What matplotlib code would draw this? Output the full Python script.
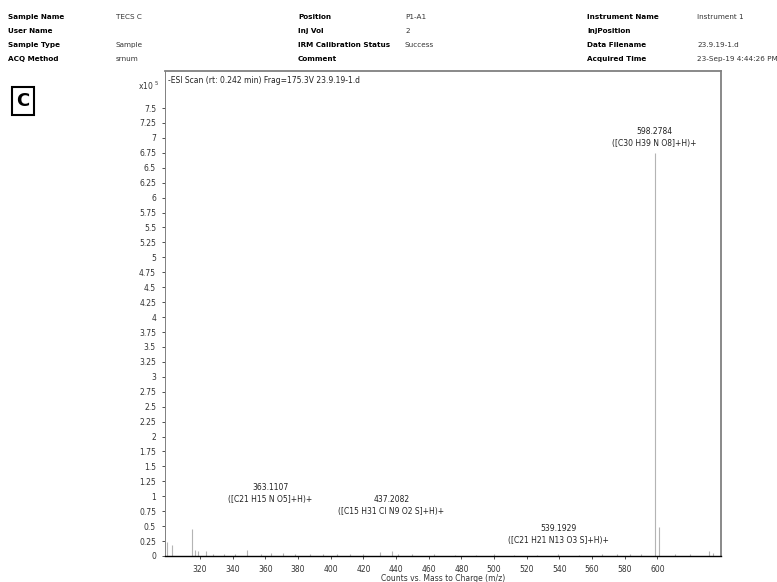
import matplotlib.pyplot as plt
import numpy as np

# spectrum peaks (m/z, counts x10^5)
mz = [299.5, 302.5, 315.0, 316.8, 318.6, 323.5, 328.0, 334.5, 341.5, 349.0, 357.0,
      363.1, 371.0, 378.0, 387.0, 395.0, 404.0, 412.0, 420.0, 430.0, 437.2, 441.0,
      450.0, 463.0, 476.0, 489.0, 500.0, 512.0, 526.0, 539.2, 552.0, 566.0, 575.0,
      583.0, 590.0, 598.28, 601.3, 611.0, 620.0, 631.7, 634.0]
counts = [0.23, 0.18, 0.45, 0.10, 0.09, 0.08, 0.03, 0.03, 0.04, 0.10, 0.03,
          0.05, 0.05, 0.03, 0.04, 0.03, 0.03, 0.03, 0.03, 0.06, 0.09, 0.04,
          0.03, 0.03, 0.02, 0.02, 0.03, 0.02, 0.02, 0.03, 0.02, 0.03, 0.03,
          0.04, 0.03, 6.75, 0.49, 0.03, 0.03, 0.09, 0.05]

# peak annotations
ann_mz = [363.1107, 437.2082, 539.1929, 598.2784]
ann_y = [1.07, 0.87, 0.385, 7.03]
ann_mass = ['363.1107', '437.2082', '539.1929', '598.2784']
ann_formula = ['([C21 H15 N O5]+H)+', '([C15 H31 Cl N9 O2 S]+H)+',
               '([C21 H21 N13 O3 S]+H)+', '([C30 H39 N O8]+H)+']

y_ticks = np.arange(0, 7.51, 0.25)
x_ticks = np.arange(320, 601, 20)

header_left = [('Sample Name', 'TECS C'), ('User Name', ''), ('Sample Type', 'Sample'),
               ('ACQ Method', 'srnum')]
header_mid = [('Position', 'P1-A1'), ('Inj Vol', '2'), ('IRM Calibration Status', 'Success'),
              ('Comment', '')]
header_right = [('Instrument Name', 'Instrument 1'), ('InjPosition', ''),
                ('Data Filename', '23.9.19-1.d'), ('Acquired Time', '23-Sep-19 4:44:26 PM')]

plt.rcParams['font.family'] = ['DejaVu Sans']
fig = plt.figure(figsize=(7.77, 5.82), dpi=100)
ax = fig.add_axes([0.2124, 0.0447, 0.7156, 0.8333])

ax.vlines(mz, 0, counts, color='#b4b4b4', linewidth=0.8)
ax.set_xlim(298.5, 639)
ax.set_ylim(0, 8.12)
ax.set_yticks(y_ticks)
ax.set_yticklabels(['%g' % v for v in y_ticks])
ax.set_xticks(x_ticks)
ax.tick_params(axis='both', labelsize=5.5, length=2.5, width=0.6, colors='#333333', pad=4)
for side in ['top', 'right', 'left']:
    ax.spines[side].set_color('#808080')
ax.spines['top'].set_linewidth(1.3)
ax.spines['right'].set_linewidth(1.3)
ax.spines['left'].set_linewidth(0.7)
ax.spines['bottom'].set_color('black')
ax.spines['bottom'].set_linewidth(1.0)

ax.set_xlabel('Counts vs. Mass to Charge (m/z)', fontsize=5.5, labelpad=0, color='#333333')

for m, y, t, f in zip(ann_mz, ann_y, ann_mass, ann_formula):
    ax.text(m, y, t, ha='center', va='bottom', fontsize=5.5, color='#222222')
    ax.text(m, y - 0.2, f, ha='center', va='bottom', fontsize=5.5, color='#222222')

ax.text(0.005, 0.99, '-ESI Scan (rt: 0.242 min) Frag=175.3V 23.9.19-1.d',
        transform=ax.transAxes, ha='left', va='top', fontsize=5.5, color='#222222')
fig.text(160 / 777, 1 - 86 / 582, 'x10 $^5$', ha='right', va='center', fontsize=5.5,
         color='#333333')

# header block
for cols, xl, xv in [(header_left, 8, 116), (header_mid, 298, 405), (header_right, 587, 697)]:
    for i, (lab, val) in enumerate(cols):
        yy = 1 - (17 + 14 * i) / 582
        fig.text(xl / 777, yy, lab, fontsize=5.2, fontweight='bold', va='center')
        fig.text(xv / 777, yy, val, fontsize=5.2, va='center', color='#333333')

fig.text(23 / 777, 1 - 101 / 582, 'C', fontsize=13, fontweight='bold', ha='center',
         va='center', bbox=dict(boxstyle='square,pad=0.25', fc='white', ec='black', lw=1.5))

fig.savefig('out.png', dpi=100)
